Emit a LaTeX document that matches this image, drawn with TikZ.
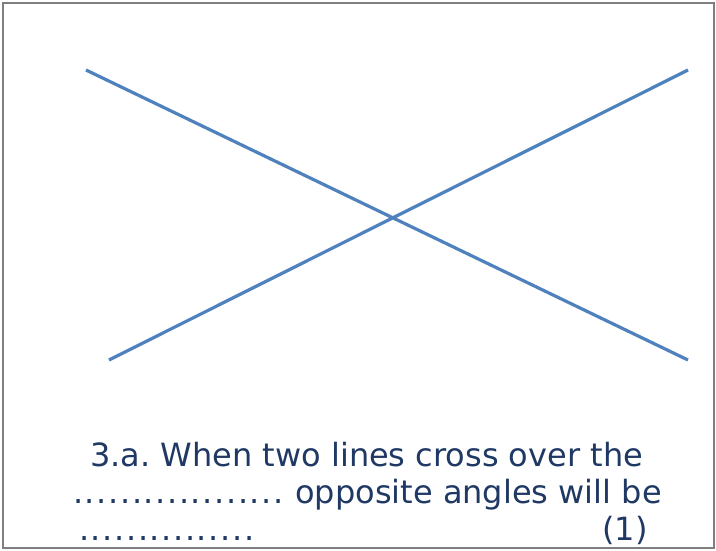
\documentclass[tikz,border=0pt]{standalone}
\usepackage{fontspec}
\setmainfont{DejaVu Sans}
\usetikzlibrary{positioning}
\definecolor{frame}{HTML}{7F7F7F}
\definecolor{line}{HTML}{4F81BD}
\definecolor{ink}{HTML}{1F3864}
% one dot of a blank to fill in
\newcommand\blankdot{.\kern1.6pt}

\begin{document}
\frenchspacing
\begin{tikzpicture}[
    x=1pt,y=-1pt,
    crossline/.style={draw=line,line width=3.2pt},
    txt/.style={inner sep=0pt,text=ink,font=\fontsize{32}{38}\selectfont}
  ]
    \useasboundingbox (0,0) rectangle (716,550);
    \draw[frame,line width=2pt] (3,3) rectangle (714,548);
    \coordinate (a1) at (86,70);
    \coordinate (a2) at (688,360);
    \coordinate (b1) at (109,360);
    \coordinate (b2) at (688,70);
    \draw[crossline] (a1) -- (a2);
    \draw[crossline] (b1) -- (b2);
    \node[txt,anchor=base west] (q1) at (90,466) {3.a. When two lines cross over the};
    \node[txt,anchor=base west] (q2) at (73,503) {\foreach \i in {1,...,18}{\blankdot} opposite angles will be};
    \node[txt,anchor=base west] (q3) at (79,540) {\foreach \i in {1,...,15}{\blankdot}};
    \node[txt,anchor=base east] (mark) at (648,540) {(1)};
  \end{tikzpicture}
\end{document}
